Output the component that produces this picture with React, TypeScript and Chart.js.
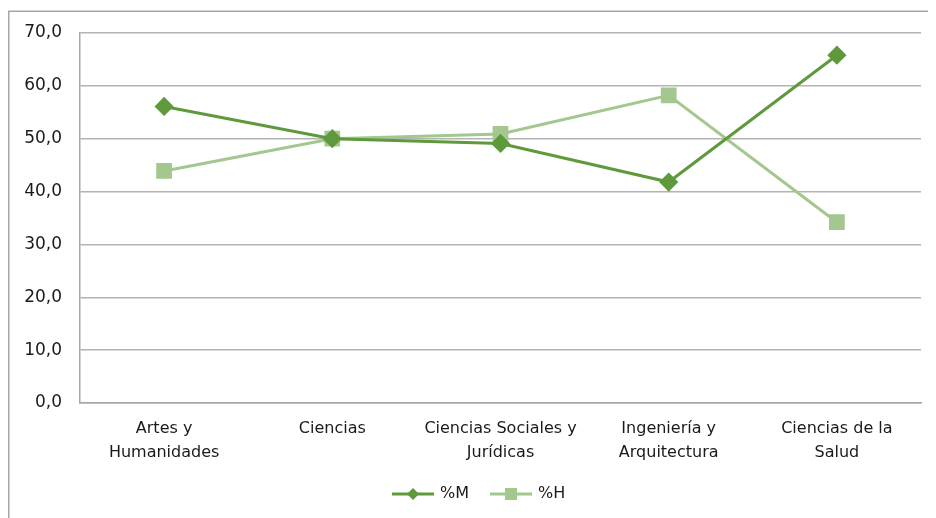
import React, { useEffect, useRef } from "react";
import { Chart, registerables } from "chart.js";

Chart.register(...registerables);

const categories: string[][] = [
  ["Artes y", "Humanidades"],
  ["Ciencias"],
  ["Ciencias Sociales y", "Jurídicas"],
  ["Ingeniería y", "Arquitectura"],
  ["Ciencias de la", "Salud"],
];
const seriesM: number[] = [56.1, 50.0, 49.1, 41.8, 65.8];
const seriesH: number[] = [43.9, 50.0, 50.9, 58.2, 34.2];
const yTicks: number[] = [0, 10, 20, 30, 40, 50, 60, 70];

const colorM = "#5E9A3C";
const colorH = "#A3C78F";
const FONT = "'DejaVu Sans', sans-serif";

const framePlugin = {
  id: "frame",
  beforeDraw(chart: any) {
    const ctx = chart.ctx;
    ctx.save();
    ctx.strokeStyle = "#A6A6A6";
    ctx.lineWidth = 1.5;
    ctx.beginPath();
    ctx.moveTo(0.75, chart.height + 5);
    ctx.lineTo(0.75, 3.25);
    ctx.lineTo(chart.width + 5, 3.25);
    ctx.stroke();
    ctx.restore();
  },
};

const legendPlugin = {
  id: "customLegend",
  afterDraw(chart: any) {
    const ctx = chart.ctx;
    const y = 486;
    let x = 384;
    ctx.save();
    chart.data.datasets.forEach((ds: any) => {
      ctx.strokeStyle = ds.borderColor;
      ctx.lineWidth = 3;
      ctx.beginPath();
      ctx.moveTo(x, y);
      ctx.lineTo(x + 42, y);
      ctx.stroke();
      ctx.fillStyle = ds.pointBackgroundColor;
      const cx = x + 21;
      if (ds.pointStyle === "rectRot") {
        ctx.beginPath();
        ctx.moveTo(cx, y - 6);
        ctx.lineTo(cx + 6, y);
        ctx.lineTo(cx, y + 6);
        ctx.lineTo(cx - 6, y);
        ctx.closePath();
        ctx.fill();
      } else {
        ctx.fillRect(cx - 6, y - 6, 12, 12);
      }
      ctx.fillStyle = "#1a1a1a";
      ctx.font = "16px " + FONT;
      ctx.textBaseline = "middle";
      ctx.textAlign = "left";
      ctx.fillText(ds.label, x + 48, y);
      x += 98;
    });
    ctx.restore();
  },
};

export default function App() {
  const ref = useRef<HTMLCanvasElement>(null);
  useEffect(() => {
    const chart = new Chart(ref.current!, {
      type: "line",
      data: {
        labels: categories,
        datasets: [
          {
            label: "%M",
            data: seriesM,
            borderColor: colorM,
            backgroundColor: colorM,
            pointBackgroundColor: colorM,
            pointBorderColor: colorM,
            pointStyle: "rectRot",
            pointRadius: 7.5,
            borderWidth: 3,
            tension: 0,
          },
          {
            label: "%H",
            data: seriesH,
            borderColor: colorH,
            backgroundColor: colorH,
            pointBackgroundColor: colorH,
            pointBorderColor: colorH,
            pointStyle: "rect",
            pointRadius: 9,
            borderWidth: 3,
            tension: 0,
          },
        ],
      },
      options: {
        animation: false,
        responsive: false,
        layout: { padding: { top: 25, right: 15, left: 0, bottom: 0 } },
        plugins: { legend: { display: false }, tooltip: { enabled: false } },
        scales: {
          x: {
            offset: true,
            grid: { display: false, drawTicks: false },
            border: { display: true, color: "#A6A6A6", width: 1.5 },
            ticks: {
              color: "#1a1a1a",
              font: { family: FONT, size: 16, lineHeight: 1.5 },
              padding: 14,
              maxRotation: 0,
              autoSkip: false,
            },
            afterFit(scale: any) {
              scale.height = 115;
            },
          },
          y: {
            min: 0,
            max: 70,
            afterBuildTicks(scale: any) {
              scale.ticks = yTicks.map((v) => ({ value: v }));
            },
            grid: { color: "#B3B3B3", lineWidth: 1.5, drawTicks: false },
            border: { display: true, color: "#A6A6A6", width: 1.5 },
            ticks: {
              color: "#1a1a1a",
              font: { family: FONT, size: 17 },
              padding: 18,
              callback: (v: any) => Number(v).toFixed(1).replace(".", ","),
            },
            afterFit(scale: any) {
              scale.width = 72;
              scale.paddingTop = 0;
              scale.paddingBottom = 0;
            },
          },
        },
      },
      plugins: [framePlugin, legendPlugin],
    });
    return () => chart.destroy();
  }, []);
  return (
    <div style={{ width: 928, height: 510 }}>
      <canvas ref={ref} width={928} height={510} style={{ display: "block" }} />
    </div>
  );
}
